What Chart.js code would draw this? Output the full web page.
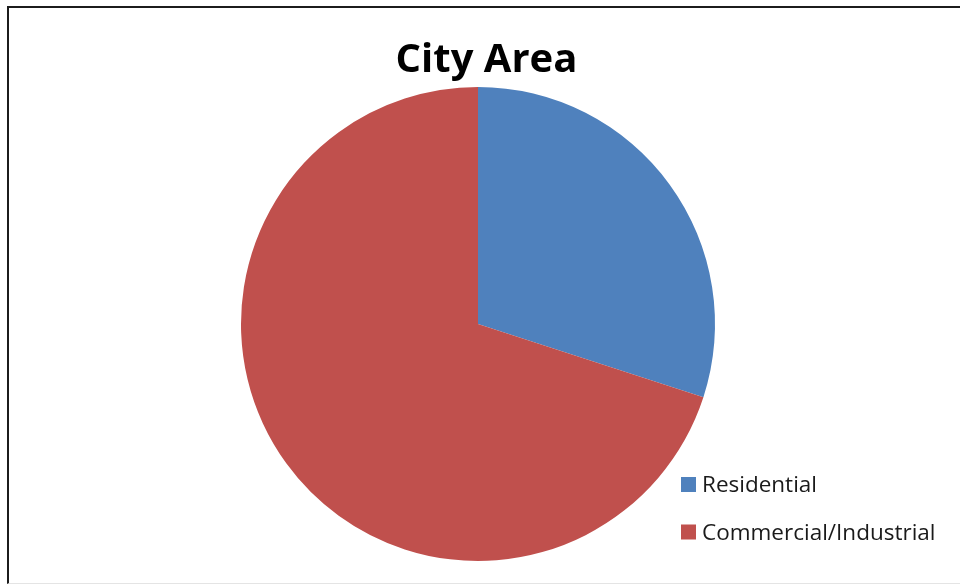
<!DOCTYPE html>
<html>
<head>
<meta charset="utf-8">
<script src="https://cdn.jsdelivr.net/npm/chart.js@4/dist/chart.umd.min.js"></script>
<style>
  html, body { margin: 0; padding: 0; background: #fff; }
  #wrap { position: relative; width: 960px; height: 584px; overflow: hidden; }
  #frame {
    position: absolute; left: 7px; top: 6px; right: -10px; bottom: 0;
    border-left: 2px solid #1c1c1c; border-top: 2px solid #1c1c1c;
    border-bottom: 1px solid #e4e4e4;
  }
  #areaChart { position: absolute; left: 0; top: 0; }
</style>
</head>
<body>
<div id="wrap">
  <div id="frame"></div>
  <canvas id="areaChart" width="960" height="584"></canvas>
</div>
<script>
// ---- data ----
const categories = ['Residential', 'Commercial/Industrial'];
const areaShare = [30, 70];
const sliceColors = ['#4F81BD', '#C0504D'];

// legend in the lower right corner, drawn from the chart's own labels
const cornerLegend = {
    id: 'cornerLegend',
    afterLayout(chart) {
        // title sits a little right of the pie centre in the original
        chart.titleBlock.right += 17;
    },
    afterDraw(chart) {
        const ctx = chart.ctx;
        const ds = chart.data.datasets[0];
        ctx.save();
        ctx.font = '22.5px "Open Sans"';
        ctx.textBaseline = 'alphabetic';
        chart.data.labels.forEach((label, i) => {
            const base = 492 + i * 47.5;
            ctx.fillStyle = ds.backgroundColor[i];
            ctx.fillRect(681, base - 15, 15, 15);
            ctx.fillStyle = '#1a1a1a';
            ctx.fillText(label, 702, base);
        });
        ctx.restore();
    }
};

new Chart(document.getElementById('areaChart'), {
    type: 'pie',
    data: {
        labels: categories,
        datasets: [{
            data: areaShare,
            backgroundColor: sliceColors,
            borderWidth: 0
        }]
    },
    options: {
        responsive: false,
        animation: false,
        layout: {
            padding: { left: 241, right: 245, top: 0, bottom: 23 }
        },
        plugins: {
            legend: { display: false },
            tooltip: { enabled: false },
            title: {
                display: true,
                text: 'City Area',
                color: '#000',
                font: { family: '"Open Sans"', size: 40, weight: 'bold', lineHeight: 1.2 },
                padding: { top: 37, bottom: 2 }
            }
        }
    },
    plugins: [cornerLegend]
});
</script>
</body>
</html>
